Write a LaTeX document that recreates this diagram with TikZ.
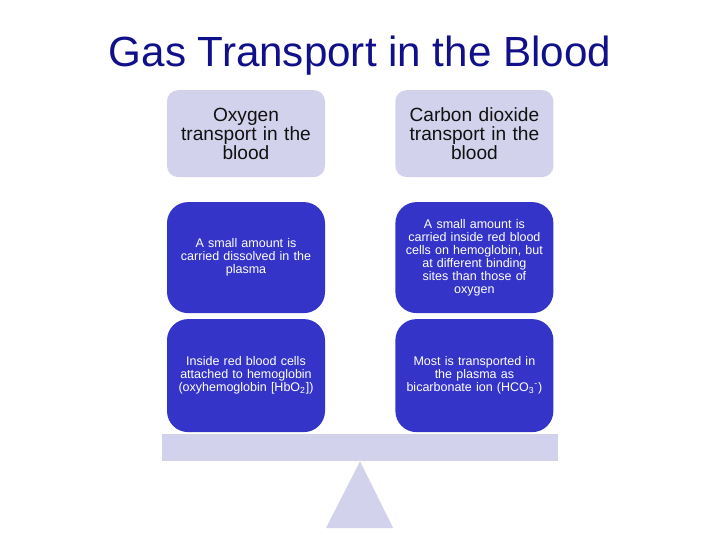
\documentclass[tikz,border=0pt]{standalone}
\usepackage{fontspec}
\setmainfont{Liberation Sans}
\usetikzlibrary{positioning,calc}
\definecolor{navy}{HTML}{10108A}
\definecolor{lav}{HTML}{D2D2EC}
\definecolor{royal}{HTML}{3434C8}
\definecolor{ink}{HTML}{111111}
\tikzset{
  head/.style={rounded corners=8pt,fill=lav,minimum width=3.95cm,minimum height=2.175cm,
               text width=3.7cm,align=center,text=ink,font=\fontsize{13.6}{13.6}\selectfont},
  fact/.style={rounded corners=15pt,fill=royal,minimum width=3.95cm,
               text width=3.7cm,align=center,text=white,font=\fontsize{8.9}{9.3}\selectfont},
}

\begin{document}
\begin{tikzpicture}
  \useasboundingbox (0,0) rectangle (18,-13.5);

  \node[text=navy,font=\fontsize{30}{34}\selectfont] (title) at (9,-1.38) {Gas Transport in the Blood};

  % ---------------------------------------------------------------- headers
  \node[head] (oxy) at (6.15,-3.34) {Oxygen\\transport in the\\blood};
  \node[head] (co2) at (11.86,-3.34) {Carbon dioxide\\transport in the\\blood};

  % ---------------------------------------------------------------- facts
  \node[fact,minimum height=2.775cm] (oxysmall) at (6.15,-6.44)
       {A small amount is\\carried dissolved in the\\plasma};
  \node[fact,minimum height=2.775cm] (co2small) at (11.86,-6.44)
       {A small amount is\\carried inside red blood\\cells on hemoglobin, but\\at different binding\\sites than those of\\oxygen};
  \node[fact,minimum height=2.825cm] (oxymost) at (6.15,-9.39)
       {Inside red blood cells\\attached to hemoglobin\\(oxyhemoglobin [HbO\textsubscript{2}])};
  \node[fact,minimum height=2.825cm] (co2most) at (11.86,-9.39)
       {Most is transported in\\the plasma as\\bicarbonate ion (HCO\textsubscript{3}\textsuperscript{-})};

  % ---------------------------------------------------------------- balance
  \node[fill=lav,minimum width=9.9cm,minimum height=0.675cm,inner sep=0pt] (beam) at (9,-11.19) {};
  \fill[lav] (beam.south) -- (9.83,-13.2) -- (8.15,-13.2) -- cycle;
\end{tikzpicture}
\end{document}
